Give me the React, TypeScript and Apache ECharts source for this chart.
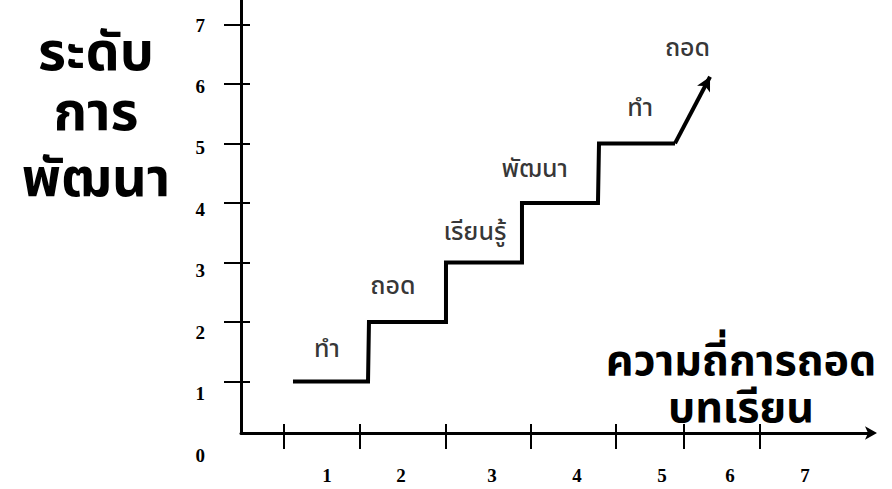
import React, { useEffect, useRef } from "react";
import * as echarts from "echarts";

// step line (x in lesson units, y in development level)
const stepX = [0.66, 1.613, 1.625, 2.603, 2.603, 3.568, 3.568, 4.533, 4.546, 5.511];
const stepY = [1, 1, 2, 2, 3, 3, 4, 4, 5, 5];
const arrowEndX = 5.956;
const arrowEndY = 6.12;

const xTickValues = [0.546, 1.511, 2.603, 3.683, 4.762, 5.625, 6.59];
const xLabelValues = [1.092, 2.032, 3.187, 4.267, 5.346, 6.21, 7.162];
const xLabelTexts = ["1", "2", "3", "4", "5", "6", "7"];
const yTickValues = [1, 2, 3, 4, 5, 6, 7];
const yLabelValues = [0, 1, 2, 3, 4, 5, 6, 7];

const noteTexts = ["ทำ", "ถอด", "เรียนรู้", "พัฒนา", "ทำ", "ถอด"];
const noteX = [1.092, 1.93, 2.97, 3.73, 5.07, 5.67];
const noteY = [1.54, 2.6, 3.52, 4.57, 5.6, 6.61];

const yTitleLines = ["ระดับ", "การ", "พัฒนา"];
const xTitleLines = ["ความถี่การถอด", "บทเรียน"];

const THAI = "Tahoma, 'Noto Sans Thai', Loma, Garuda, 'Noto Sans', sans-serif";
const SERIF = "'Liberation Serif', 'Times New Roman', serif";

export default function App() {
  const ref = useRef<HTMLDivElement>(null);
  useEffect(() => {
    if (!ref.current) return;
    const chart = echarts.init(ref.current, undefined, { renderer: "svg" });
    const hidden = { show: false };
    const stepData = stepX.map((x, i) => [x, stepY[i]]);
    const last = stepData[stepData.length - 1];
    const yTitleY = [53, 113, 179];
    const xTitleY = [361, 408];
    const option: any = {
      animation: false,
      backgroundColor: "#fff",
      grid: [
        { left: 241, right: 21, top: 0, bottom: 48 }, // data grid
        { left: 241, right: 21, top: 0, bottom: 34 }, // y labels
        { left: 241, right: 21, top: 0, bottom: 56 }, // axis lines
      ],
      xAxis: [
        { type: "value", gridIndex: 0, min: 0, max: 8, axisLine: hidden, axisTick: hidden, axisLabel: hidden, splitLine: hidden },
        { type: "value", gridIndex: 1, min: 0, max: 8, axisLine: hidden, axisTick: hidden, axisLabel: hidden, splitLine: hidden },
        {
          type: "value", gridIndex: 2, min: 0, max: 8, position: "bottom",
          axisLine: { show: true, onZero: false, symbol: ["none", "arrow"], symbolSize: [10, 12], symbolOffset: [0, 6], lineStyle: { color: "#000", width: 3 } },
          axisTick: hidden,
          axisLabel: {
            show: true, customValues: xLabelValues, margin: 33,
            color: "#000", fontFamily: SERIF, fontWeight: "bold", fontSize: 19,
            formatter: (v: number) => {
              let best = 0;
              xLabelValues.forEach((lv, i) => { if (Math.abs(lv - v) < Math.abs(xLabelValues[best] - v)) best = i; });
              return xLabelTexts[best];
            },
          },
          splitLine: hidden,
        },
        {
          type: "value", gridIndex: 2, min: 0, max: 8, position: "bottom", offset: -9,
          axisLine: { show: false, onZero: false },
          axisTick: { show: true, customValues: xTickValues, length: 25, lineStyle: { color: "#000", width: 2 } },
          axisLabel: hidden, splitLine: hidden,
        },
      ],
      yAxis: [
        {
          type: "value", gridIndex: 0, min: 0, max: 7.41, position: "left", offset: -9,
          axisLine: { show: false, onZero: false },
          axisTick: { show: true, customValues: yTickValues, length: 26, lineStyle: { color: "#000", width: 2 } },
          axisLabel: hidden, splitLine: hidden,
        },
        {
          type: "value", gridIndex: 1, min: 0, max: 7.41, position: "left",
          axisLine: { show: false, onZero: false }, axisTick: hidden,
          axisLabel: { show: true, customValues: yLabelValues, margin: 36, color: "#000", fontFamily: SERIF, fontWeight: "bold", fontSize: 19 },
          splitLine: hidden,
        },
        {
          type: "value", gridIndex: 2, min: 0, max: 1, position: "left",
          axisLine: { show: true, onZero: false, lineStyle: { color: "#000", width: 3 } },
          axisTick: hidden, axisLabel: hidden, splitLine: hidden,
        },
      ],
      series: [
        {
          type: "line", xAxisIndex: 0, yAxisIndex: 0, data: stepData,
          showSymbol: false, symbol: "none",
          lineStyle: { color: "#000", width: 4, join: "miter" },
          markLine: {
            silent: true, symbol: ["none", "arrow"], symbolSize: [11, 14],
            lineStyle: { color: "#000", width: 4, type: "solid" },
            label: { show: false },
            data: [[{ coord: last }, { coord: [arrowEndX, arrowEndY] }]],
          },
        },
        {
          type: "scatter", xAxisIndex: 0, yAxisIndex: 0, silent: true,
          symbolSize: 2, itemStyle: { color: "rgba(0,0,0,0)" },
          data: noteTexts.map((t, i) => ({ name: t, value: [noteX[i], noteY[i]] })),
          label: { show: true, position: "inside", formatter: "{b}", color: "#000", fontFamily: THAI, fontWeight: 500, fontSize: 25 },
          labelLayout: { hideOverlap: false },
        },
      ],
      graphic: [
        ...yTitleLines.map((t, i) => ({
          type: "text", x: 96, y: yTitleY[i],
          style: { text: t, fill: "#000", font: `bold 54px ${THAI}`, lineHeight: 54, align: "center", verticalAlign: "middle" },
        })),
        ...xTitleLines.map((t, i) => ({
          type: "text", x: 741, y: xTitleY[i],
          style: { text: t, fill: "#000", font: `bold 43px ${THAI}`, lineHeight: 43, align: "center", verticalAlign: "middle" },
        })),
      ],
    };
    chart.setOption(option);
    return () => chart.dispose();
  }, []);
  return <div ref={ref} style={{ position: "fixed", left: 0, top: 0, width: 892, height: 489, background: "#fff" }} />;
}
